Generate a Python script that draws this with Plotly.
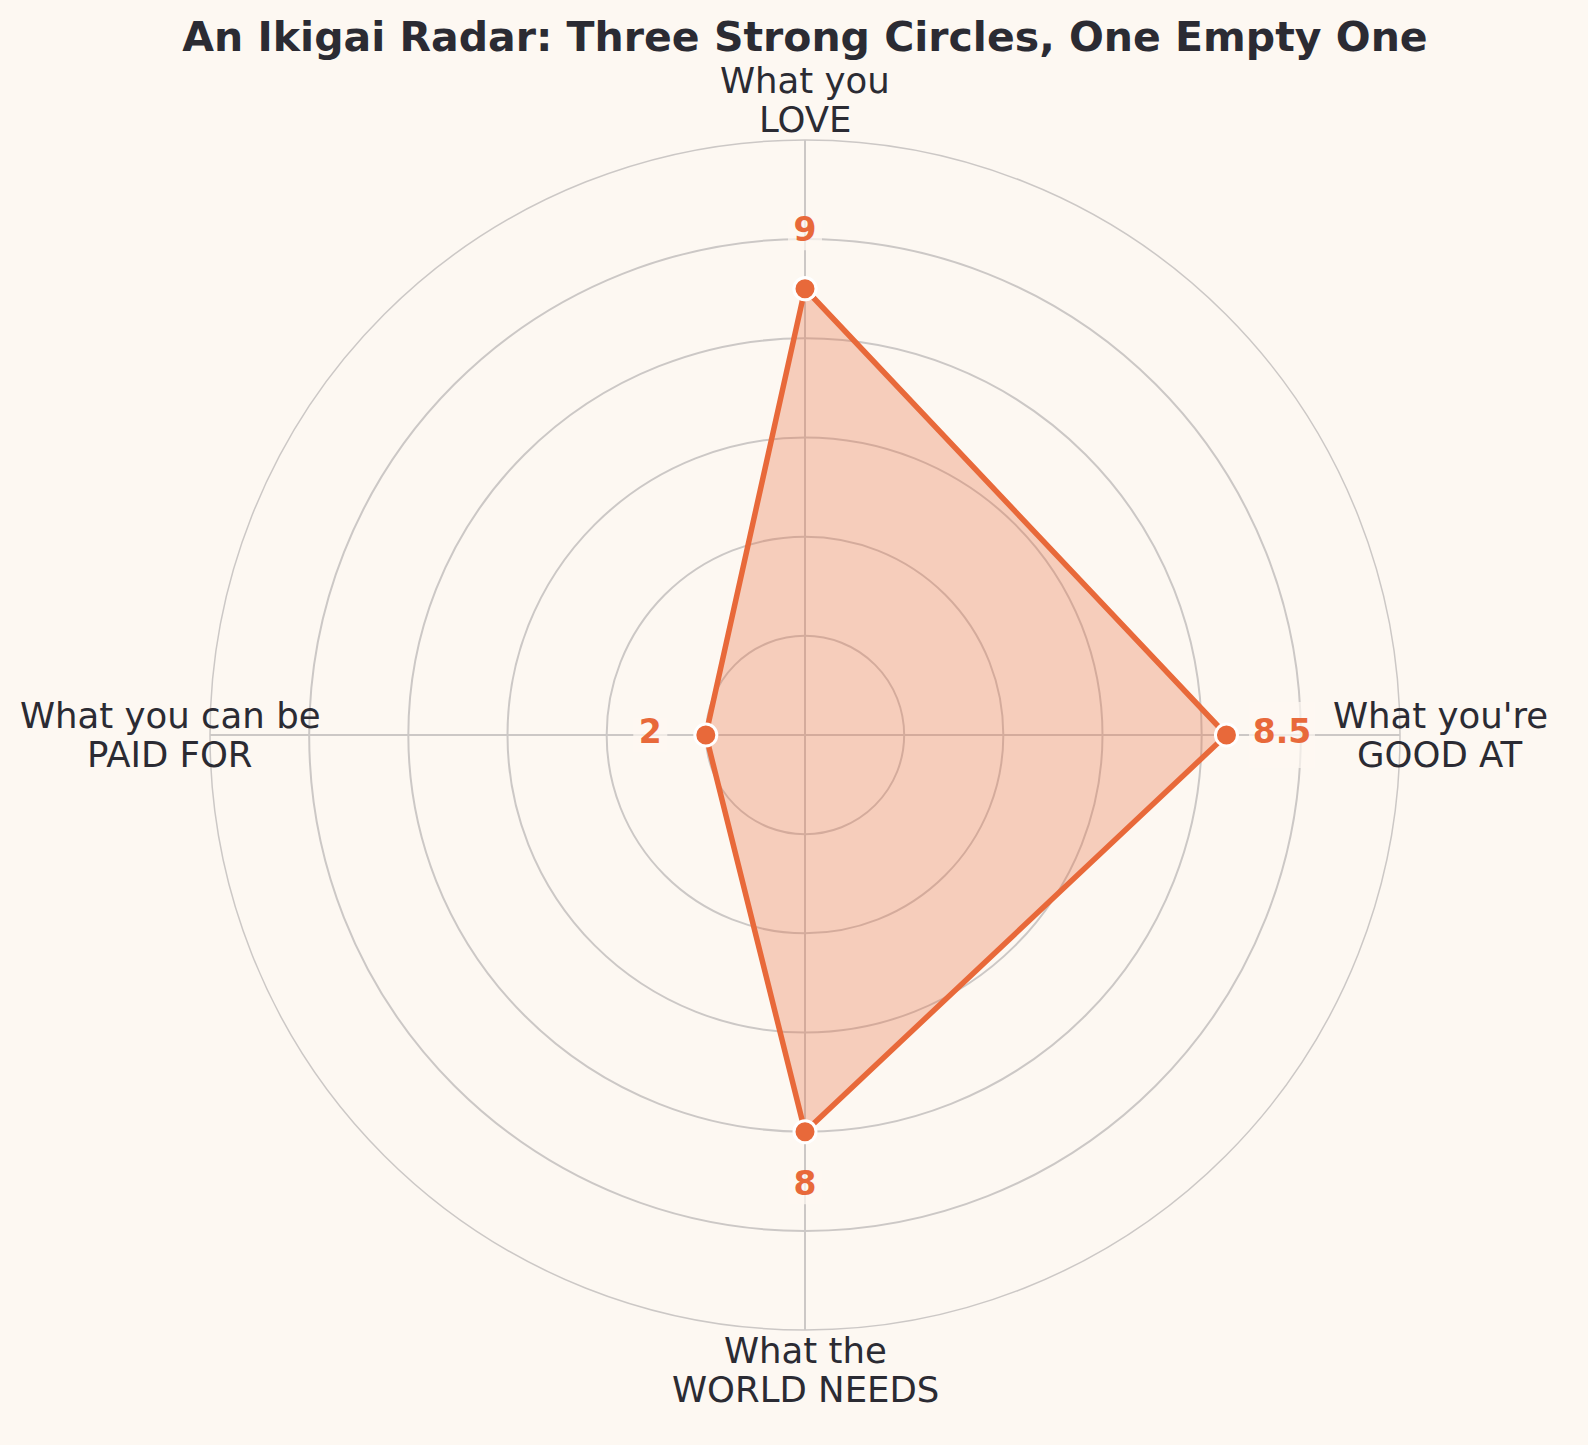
import math
import plotly.graph_objects as go

# Ikigai scores (clockwise from the top)
categories = ["LOVE", "GOOD AT", "WORLD NEEDS", "PAID FOR"]
label_top = ["What you", "What you're", "What the", "What you can be"]
label_bottom = ["LOVE", "GOOD AT", "WORLD NEEDS", "PAID FOR"]
scores = [9, 8.5, 8, 2]
score_text = ["9", "8.5", "8", "2"]

ORANGE = "#E8693A"
BG = "#FDF8F2"
INK = "#2B2B33"
GRID = "#CCC8C6"

W, H = 1588, 1445
CX, CY, R = 805, 735, 595          # centre and outer radius of the polar area, px
LABEL_R = 635                       # where the category labels sit, px
LINE_GAP = 39                       # px between the two lines of a label

fig = go.Figure()

# filled polygon
fig.add_trace(go.Scatterpolar(
    r=scores + scores[:1],
    theta=categories + categories[:1],
    mode="lines+markers",
    fill="toself",
    fillcolor="rgba(232,105,58,0.30)",
    line=dict(color=ORANGE, width=5.5),
    marker=dict(size=22, color=ORANGE, line=dict(color="white", width=3)),
    hoverinfo="skip",
    showlegend=False,
))

# score labels, a bit further out, with a background patch to hide the grid
fig.add_trace(go.Scatterpolar(
    r=[s + 1.12 for s in scores],
    theta=categories,
    mode="markers+text",
    text=score_text,
    textposition="middle center",
    textfont=dict(family="DejaVu Sans", size=33, color=ORANGE, weight="bold"),
    marker=dict(symbol="square", size=[34, 66, 34, 34], color=BG, line=dict(width=0)),
    hoverinfo="skip",
    showlegend=False,
))

# category labels placed around the outer ring
annotations = []
for i in range(len(categories)):
    ang = math.pi / 2 - i * 2 * math.pi / len(categories)
    px = CX + LABEL_R * math.cos(ang)
    py = CY - LABEL_R * math.sin(ang)
    for txt, dy in ((label_top[i], -LINE_GAP / 2), (label_bottom[i], LINE_GAP / 2)):
        annotations.append(dict(
            text=txt, x=px / W, y=1 - (py + dy) / H, xref="paper", yref="paper",
            xanchor="center", yanchor="middle", showarrow=False,
            font=dict(family="DejaVu Sans", size=35.5, color=INK),
        ))

fig.update_layout(
    width=W, height=H,
    paper_bgcolor=BG,
    plot_bgcolor=BG,
    margin=dict(l=0, r=0, t=0, b=0),
    title=dict(
        text="<b>An Ikigai Radar: Three Strong Circles, One Empty One</b>",
        x=CX / W, xanchor="center", y=1 - 37 / H, yanchor="middle",
        font=dict(family="DejaVu Sans", size=41, color=INK),
    ),
    polar=dict(
        bgcolor=BG,
        domain=dict(x=[(CX - R) / W, (CX + R) / W], y=[1 - (CY + R) / H, 1 - (CY - R) / H]),
        radialaxis=dict(
            range=[0, 12], tickvals=[2, 4, 6, 8, 10, 12],
            showticklabels=False, ticks="", showline=False,
            gridcolor=GRID, gridwidth=1.5,
        ),
        angularaxis=dict(
            rotation=90, direction="clockwise",
            showticklabels=False, ticks="",
            showline=True, linecolor=GRID, linewidth=1.5,
            gridcolor=GRID, gridwidth=1.5,
        ),
    ),
    annotations=annotations,
)

fig.write_html("out.html", config={"displayModeBar": False},
               post_script="document.body.style.margin='0';")
